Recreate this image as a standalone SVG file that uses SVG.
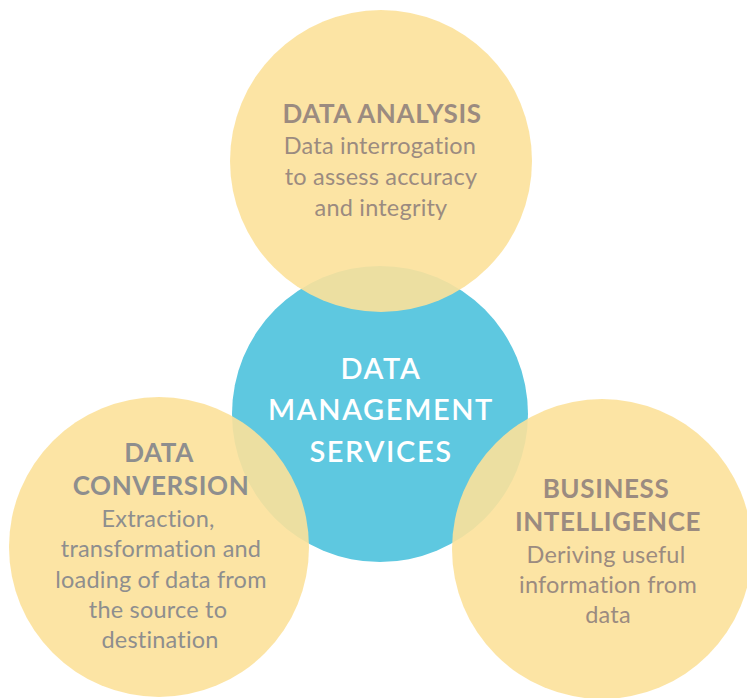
<svg xmlns="http://www.w3.org/2000/svg" width="747" height="698" viewBox="0 0 747 698">
<style>
.y{fill:#fce19a;fill-opacity:0.9}
.b{fill:#5ec8e0}
text{font-family:Lato,"Open Sans","Liberation Sans",sans-serif;text-anchor:middle}
.h{font-weight:bold;font-size:26px;letter-spacing:0.6px}
.d{font-size:23.5px;letter-spacing:0.2px}
.c{fill:#ffffff;font-size:29px;font-weight:600;letter-spacing:1.6px}
.t1{fill:#9b8b80}
.t2{fill:#8e8e8e}
</style>
<rect width="747" height="698" fill="#ffffff"/>
<g id="center">
<circle class="b" cx="380" cy="414" r="148"/>
</g>
<g id="analysis">
<circle class="y" cx="381" cy="161" r="151"/>
<text class="h t1" x="382" y="123" letter-spacing="1">DATA ANALYSIS</text>
<text class="d t1" x="380" y="154">Data interrogation</text>
<text class="d t1" x="381" y="185">to assess accuracy</text>
<text class="d t1" x="381" y="216">and integrity</text>
</g>
<g id="conversion">
<circle class="y" cx="159" cy="547" r="150"/>
<text class="h t2" x="159" y="462">DATA</text>
<text class="h t2" x="161" y="495">CONVERSION</text>
<text class="d t2" x="158" y="527">Extraction,</text>
<text class="d t2" x="161" y="557">transformation and</text>
<text class="d t2" x="161" y="588">loading of data from</text>
<text class="d t2" x="158" y="618">the source to</text>
<text class="d t2" x="160" y="648">destination</text>
</g>
<g id="bi">
<circle class="y" cx="602" cy="549" r="150"/>
<text class="h t1" x="606" y="498">BUSINESS</text>
<text class="h t1" x="608" y="531">INTELLIGENCE</text>
<text class="d t1" x="606" y="563">Deriving useful</text>
<text class="d t1" x="608" y="593">information from</text>
<text class="d t1" x="608" y="623">data</text>
</g>
<g id="center-label">
<text class="c" x="381" y="379">DATA</text>
<text class="c" x="381" y="420">MANAGEMENT</text>
<text class="c" x="381" y="462">SERVICES</text>
</g>
<g id="connectors"></g>
</svg>
